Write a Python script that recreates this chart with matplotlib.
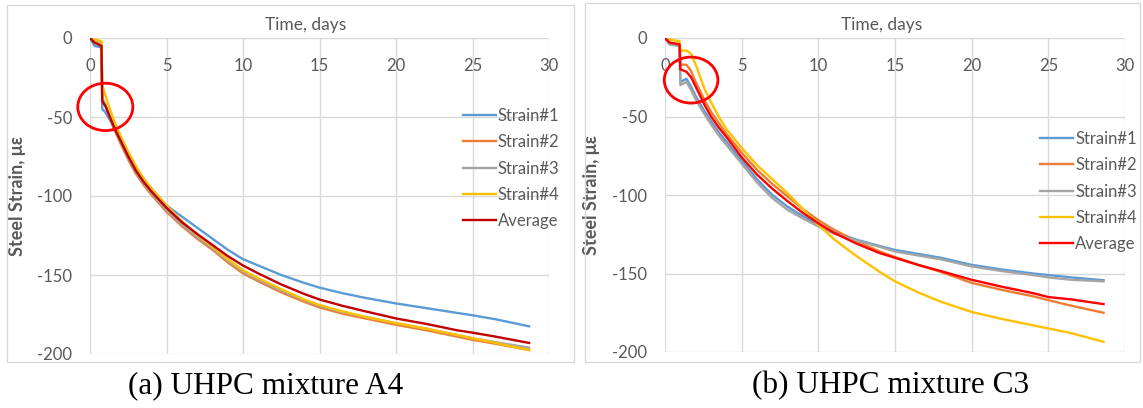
import matplotlib.pyplot as plt
from matplotlib.patches import Ellipse, Rectangle

plt.rcParams['axes.unicode_minus'] = False

# ---------------- data ----------------
# (a) UHPC mixture A4
t_a4 = [0, 0.3, 0.75, 0.8, 1.0, 1.3, 1.6, 2, 2.5, 3, 3.5, 4, 5, 6, 7, 8, 9, 10, 11, 12.5,
        14, 15, 16.5, 18, 20, 22, 24, 25, 26.5, 28.7]
a4_s1 = [0, -5, -6, -45, -47, -52, -58, -65, -74, -82, -89, -95, -106, -113, -120, -127, -134, -140, -144, -150,
         -155, -158, -161.5, -164.5, -168, -171, -174, -175.5, -178, -182.5]
a4_s2 = [0, -2, -3, -38, -42, -50, -58, -67, -77, -86, -93, -99, -110, -119, -127, -134, -142, -149, -154, -161,
         -167, -170.5, -174.5, -177.5, -181.5, -185, -189, -191, -193.5, -197.5]
a4_s3 = [0, -2, -4, -38, -42, -50, -57, -66, -76, -85, -92, -98, -109, -118, -126, -133, -141, -148, -153, -160,
         -166, -169.5, -173.5, -176.5, -180.5, -184, -188, -190, -192.5, -196]
a4_s4 = [0, -1, -2, -30, -36, -45, -53, -62, -72, -81, -89, -95, -106, -116, -124.5, -132, -140, -147, -152, -159,
         -165.5, -169, -173, -176.5, -180.5, -184, -188, -190, -193, -197.5]
a4_avg = [0, -3, -5, -40, -43, -50, -57, -65, -75, -84, -91, -97, -107.5, -116.5, -124, -131, -138, -144, -149, -156,
          -162, -165.5, -169.5, -173, -177.5, -181, -185, -186.5, -189, -193]

# (b) UHPC mixture C3
t_c3 = [0, 0.3, 0.95, 1.0, 1.4, 1.7, 2, 2.6, 3, 3.5, 4, 5, 6, 7, 8, 9, 10, 11, 12.5,
        14, 15, 16.5, 18, 20, 22, 24, 25, 26.5, 28.6]
c3_s1 = [0, -4, -5, -28, -26, -31, -37, -47, -53, -60, -66, -78, -90, -100, -107.5, -113.5, -119, -123.5, -128.5,
         -132.5, -135, -137.5, -140, -144.5, -147.5, -150, -151, -152.5, -154.3]
c3_s2 = [0, -3, -4, -17, -17, -21, -28, -40, -47, -54, -61, -73, -84, -93, -101, -109, -116, -122, -129.5,
         -136, -139.5, -144.5, -149, -156, -160.5, -164.5, -167, -170.5, -175]
c3_s3 = [0, -4, -5, -30, -28, -33, -39, -49, -55, -62, -68, -80, -92, -102, -109.5, -115, -120, -124.5, -129,
         -133, -136, -138.5, -141, -145.5, -148.5, -151, -152.5, -154, -155]
c3_s4 = [0, -1, -2, -8, -8, -10, -17, -33, -41, -50, -58, -70, -81, -90, -99, -109, -119, -128, -139,
         -149, -155, -162, -168, -174.5, -179, -183, -185, -188, -193.5]
c3_avg = [0, -3, -4, -20, -21.5, -25, -31, -43, -50, -57, -63, -76, -87, -96, -104, -111.5, -118, -124, -131,
          -137, -140, -144.5, -148.5, -154, -158.5, -162.5, -165, -166.5, -169.5]

labels = ['Strain#1', 'Strain#2', 'Strain#3', 'Strain#4', 'Average']
x_ticks = [0, 5, 10, 15, 20, 25, 30]
y_ticks = [0, -50, -100, -150, -200]

# Excel-like colours
c_blue, c_orange, c_gray, c_yellow = '#5B9BD5', '#ED7D31', '#A5A5A5', '#FFC000'
txt_col = '#595959'
grid_col = '#D9D9D9'
font = ['Lato', 'DejaVu Sans']

W, H = 1143, 408
fig = plt.figure(figsize=(W / 100, H / 100), dpi=100)


def px_box(x0, y0, x1, y1):
    # pixel box (top-left origin) -> figure fraction rect
    return [x0 / W, 1 - y1 / H, (x1 - x0) / W, (y1 - y0) / H]


def draw_panel(rect, t, series, avg_col, leg_xy, circle, ylab_x):
    ax = fig.add_axes(rect)
    cols = [c_blue, c_orange, c_gray, c_yellow, avg_col]
    for ys, col, lab in zip(series, cols, labels):
        ax.plot(t, ys, color=col, lw=1.7, label=lab)

    ax.set_xlim(0, 30)
    ax.set_ylim(-200, 0)
    ax.set_xticks(x_ticks)
    ax.set_yticks(y_ticks)
    ax.set_yticklabels([str(v) for v in y_ticks])
    for s in ax.spines.values():
        s.set_visible(False)
    ax.grid(True, color=grid_col, lw=1.0)
    ax.set_axisbelow(True)

    # x labels sit on the top axis, but just under the line (Excel style)
    ax.xaxis.tick_top()
    ax.tick_params(axis='x', length=0, pad=-26, labelsize=12, labelcolor=txt_col)
    ax.tick_params(axis='y', length=0, pad=13, labelsize=12, labelcolor=txt_col)
    for lab in ax.get_xticklabels() + ax.get_yticklabels():
        lab.set_family(font)

    ax.text(0.47, 1.042, 'Time, days', transform=ax.transAxes, ha='center', va='center',
            fontsize=12.5, color=txt_col, family=font)
    ax.set_ylabel('Steel Strain, \u03bc\u03b5', fontsize=13, fontweight='bold',
                  color=txt_col, family=font)
    ax.yaxis.set_label_coords(ylab_x, 0.5)

    leg = ax.legend(loc='upper left', bbox_to_anchor=(leg_xy[0] / W, 1 - leg_xy[1] / H),
                    bbox_transform=fig.transFigure, frameon=False, borderpad=0,
                    borderaxespad=0, handlelength=2.0, handletextpad=0.1,
                    labelspacing=0.62, prop={'family': font, 'size': 12})
    for txt in leg.get_texts():
        txt.set_color(txt_col)

    # red circle marking the early drop
    ax.add_patch(Ellipse(circle[0], circle[1], circle[2], fill=False, edgecolor='#FF0000',
                         lw=2.0, clip_on=False, zorder=5))
    return ax


# outer chart boxes
for bx in [(7, 5, 574, 362), (585, 3, 1140, 362)]:
    r = px_box(*bx)
    fig.add_artist(Rectangle((r[0], r[1]), r[2], r[3], transform=fig.transFigure,
                             fill=False, edgecolor=grid_col, lw=1))

draw_panel(px_box(90, 38, 549, 354), t_a4, [a4_s1, a4_s2, a4_s3, a4_s4, a4_avg], '#C00000',
           (463, 108), ((1.0, -43.6), 3.6, 30), (26 - 90) / 459)
draw_panel(px_box(665, 38, 1125, 352), t_c3, [c3_s1, c3_s2, c3_s3, c3_s4, c3_avg], '#FF0000',
           (1040, 131), ((1.7, -26.8), 3.5, 29.3), (600 - 665) / 460)

fig.text(266 / W, 1 - 386 / H, '(a) UHPC mixture A4', ha='center', va='center',
         fontsize=22.5, family='Liberation Serif', color='black')
fig.text(891 / W, 1 - 386 / H, '(b) UHPC mixture C3', ha='center', va='center',
         fontsize=22.5, family='Liberation Serif', color='black')

fig.savefig('out.png', dpi=100)
plt.close(fig)
